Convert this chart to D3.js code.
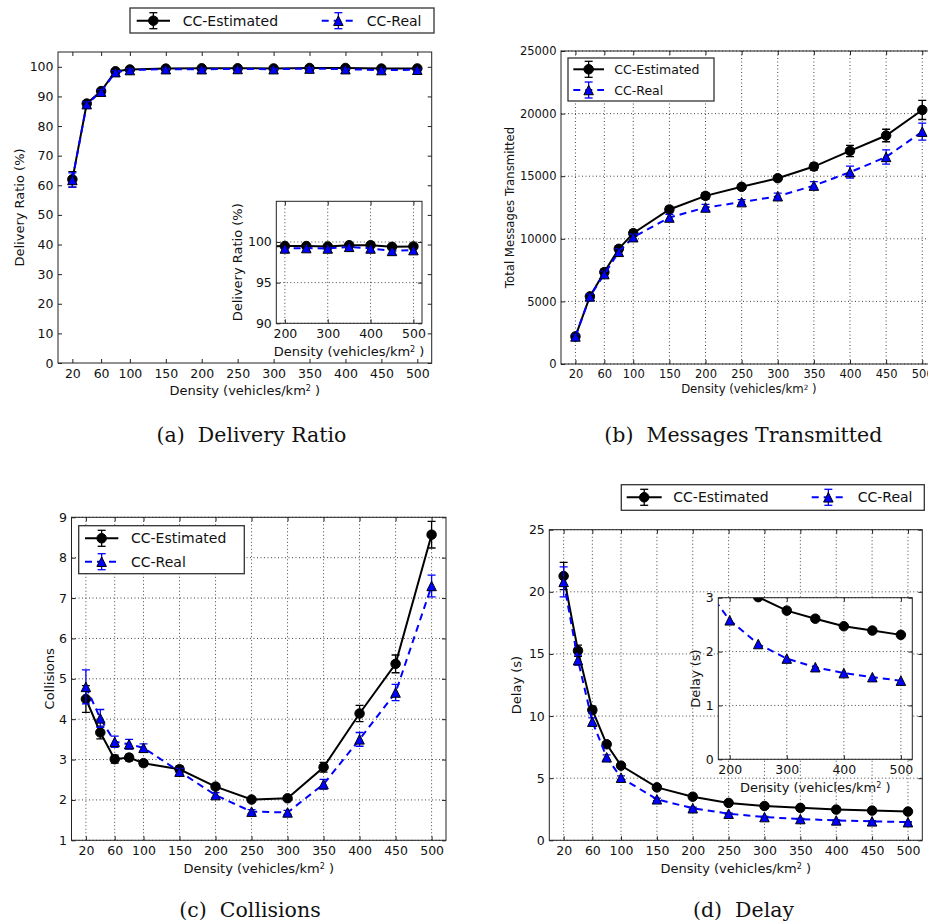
<!DOCTYPE html>
<html><head><meta charset="utf-8">
<script src="https://cdn.jsdelivr.net/npm/d3@7"></script>
<style>
body{margin:0;background:#fff}
svg{display:block;font-family:"DejaVu Sans",sans-serif}
</style></head><body>
<svg id="fig" width="928" height="924"></svg>
<script>
// ---- data ----
const density = [20,40,60,80,100,150,200,250,300,350,400,450,500];
const xTicks = [20,60,100,150,200,250,300,350,400,450,500];
const insetXTicks = [200,300,400,500];

const deliveryEst     = [62.0,87.6,91.8,98.5,99.1,99.4,99.5,99.5,99.45,99.6,99.6,99.4,99.45];
const deliveryEstErr  = [2.6,0.8,0.7,0.5,0.4,0.3,0.3,0.3,0.3,0.3,0.3,0.3,0.3];
const deliveryReal    = [61.8,87.4,91.6,98.2,98.9,99.2,99.2,99.25,99.2,99.4,99.2,98.9,99.0];
const deliveryRealErr = [2.4,0.8,0.7,0.5,0.4,0.3,0.3,0.3,0.3,0.3,0.3,0.4,0.3];
const deliveryTicks   = [0,10,20,30,40,50,60,70,80,90,100];
const deliveryInsetTicks = [90,95,100];

const msgEst     = [2200,5400,7340,9200,10450,12340,13430,14150,14840,15770,17020,18250,20290];
const msgEstErr  = [150,200,250,250,250,250,250,200,200,280,450,500,760];
const msgReal    = [2200,5400,7180,8960,10130,11700,12500,12930,13400,14250,15320,16540,18560];
const msgRealErr = [150,200,250,250,250,250,250,200,250,320,480,570,680];
const msgTicks   = [0,5000,10000,15000,20000,25000];

const collEst     = [4.50,3.67,3.01,3.05,2.91,2.76,2.33,2.01,2.04,2.81,4.14,5.37,8.57];
const collEstErr  = [0.33,0.16,0.10,0.08,0.07,0.08,0.06,0.05,0.05,0.12,0.20,0.22,0.33];
const collReal    = [4.80,4.02,3.44,3.38,3.29,2.70,2.12,1.71,1.69,2.39,3.50,4.66,7.30];
const collRealErr = [0.42,0.22,0.14,0.12,0.10,0.08,0.06,0.05,0.05,0.12,0.17,0.20,0.27];
const collTicks   = [1,2,3,4,5,6,7,8,9];

const delayEst     = [21.27,15.26,10.49,7.73,6.01,4.26,3.51,3.01,2.76,2.61,2.47,2.39,2.31];
const delayEstErr  = [1.1,0.45,0.3,0.2,0.15,0.1,0.08,0.06,0.05,0.05,0.05,0.05,0.05];
const delayReal    = [20.8,14.5,9.55,6.68,5.04,3.30,2.58,2.14,1.87,1.71,1.60,1.525,1.46];
const delayRealErr = [1.2,0.4,0.3,0.2,0.15,0.1,0.08,0.06,0.05,0.05,0.05,0.05,0.05];
const delayTicks   = [0,5,10,15,20,25];
const delayInsetTicks = [0,1,2,3];

const seriesNames = ["CC-Estimated","CC-Real"];
const BLUE = "#0000ff";
const MS = 4.75; // marker half-size

const svg = d3.select("#fig");
let clipCount = 0;

function series(values, err, i){
  return i === 0
    ? {values, err, color:"#000", marker:"circle", dash:null}
    : {values, err, color:BLUE, marker:"triangle", dash:"7,5"};
}

function drawMarker(sel, kind){
  if (kind === "circle"){
    sel.append("circle").attr("r", MS).attr("fill","#000").attr("stroke","#000").attr("stroke-width",1);
  } else {
    sel.append("path").attr("d",`M0,${-MS}L${MS},${MS}L${-MS},${MS}Z`)
      .attr("fill",BLUE).attr("stroke","#000").attr("stroke-width",1);
  }
}

function drawSeries(g, x, y, s, withErr){
  const pts = density.map((d,i)=>({x:d, v:s.values[i], e:s.err ? s.err[i] : 0}));
  if (withErr && s.err){
    const eg = g.append("g").attr("stroke", s.color).attr("stroke-width",1.3);
    eg.selectAll(null).data(pts).join("line")
      .attr("x1",d=>x(d.x)).attr("x2",d=>x(d.x))
      .attr("y1",d=>y(d.v-d.e)).attr("y2",d=>y(d.v+d.e));
    [-1,1].forEach(sgn=>{
      eg.selectAll(null).data(pts).join("line")
        .attr("x1",d=>x(d.x)-4).attr("x2",d=>x(d.x)+4)
        .attr("y1",d=>y(d.v+sgn*d.e)).attr("y2",d=>y(d.v+sgn*d.e));
    });
  }
  g.append("path").datum(pts)
    .attr("d", d3.line().x(d=>x(d.x)).y(d=>y(d.v)))
    .attr("fill","none").attr("stroke", s.color).attr("stroke-width",2)
    .attr("stroke-dasharray", s.dash);
  g.selectAll(null).data(pts).join("g")
    .attr("transform", d=>`translate(${x(d.x)},${y(d.v)})`)
    .each(function(){ drawMarker(d3.select(this), s.marker); });
}

function xLabelText(sel){
  sel.append("tspan").text("Density (vehicles/km");
  sel.append("tspan").attr("dy","-0.45em").attr("font-size","0.62em").text("2");
  sel.append("tspan").attr("dy","0.28em").text(" )");
}

function drawAxes(o){
  const g = svg.append("g");
  const x = d3.scaleLinear().domain(o.xDomain).range([o.left, o.right]);
  const y = d3.scaleLinear().domain(o.yDomain).range([o.bottom, o.top]);
  if (o.background){
    g.append("rect").attr("x",o.left).attr("y",o.top)
      .attr("width",o.right-o.left).attr("height",o.bottom-o.top).attr("fill","#fff");
  }
  if (o.grid){
    const gg = g.append("g").attr("stroke","#444").attr("stroke-width",1).attr("stroke-dasharray","1,2.5");
    gg.selectAll(null).data(o.xTicks).join("line")
      .attr("x1",d=>x(d)).attr("x2",d=>x(d)).attr("y1",o.top).attr("y2",o.bottom);
    gg.selectAll(null).data(o.yTicks).join("line")
      .attr("y1",d=>y(d)).attr("y2",d=>y(d)).attr("x1",o.left).attr("x2",o.right);
  }
  const id = "clip" + (clipCount++);
  svg.append("clipPath").attr("id",id).append("rect")
    .attr("x",o.left).attr("y",o.top).attr("width",o.right-o.left).attr("height",o.bottom-o.top);
  const dg = g.append("g").attr("clip-path",`url(#${id})`);
  o.series.forEach(s=>drawSeries(dg, x, y, s, o.errorbars));

  const fs = o.tickFont;
  const style = a => {
    a.select(".domain").remove();
    a.selectAll(".tick line").attr("stroke","#222");
    a.selectAll(".tick text").attr("fill","#111").attr("font-size",fs)
      .attr("font-family","DejaVu Sans");
  };
  g.append("g").attr("transform",`translate(0,${o.bottom})`)
    .call(d3.axisBottom(x).tickValues(o.xTicks).tickSizeInner(-4).tickSizeOuter(0).tickPadding(6).tickFormat(d3.format("d")))
    .call(style);
  g.append("g").attr("transform",`translate(0,${o.top})`)
    .call(d3.axisTop(x).tickValues(o.xTicks).tickSizeInner(-4).tickSizeOuter(0).tickFormat(""))
    .call(style);
  g.append("g").attr("transform",`translate(${o.left},0)`)
    .call(d3.axisLeft(y).tickValues(o.yTicks).tickSizeInner(-4).tickSizeOuter(0).tickPadding(4.5).tickFormat(d3.format("d")))
    .call(style);
  g.append("g").attr("transform",`translate(${o.right},0)`)
    .call(d3.axisRight(y).tickValues(o.yTicks).tickSizeInner(-4).tickSizeOuter(0).tickFormat(""))
    .call(style);
  g.append("rect").attr("x",o.left).attr("y",o.top)
    .attr("width",o.right-o.left).attr("height",o.bottom-o.top)
    .attr("fill","none").attr("stroke","#222").attr("stroke-width",1);

  g.append("text").attr("x",(o.left+o.right)/2).attr("y",o.xlabelY)
    .attr("text-anchor","middle").attr("dy","0.35em").attr("font-size",o.labelFont).attr("fill","#111")
    .call(xLabelText);
  g.append("text").attr("transform",`translate(${o.ylabelX},${(o.top+o.bottom)/2}) rotate(-90)`)
    .attr("text-anchor","middle").attr("dy","0.35em").attr("font-size",o.labelFont).attr("fill","#111")
    .text(o.ylabel);
  return g;
}

function handle(g, x0, x1, cy, s){
  const mx = (x0+x1)/2;
  g.append("line").attr("x1",x0).attr("x2",x1).attr("y1",cy).attr("y2",cy)
    .attr("stroke",s.color).attr("stroke-width",2).attr("stroke-dasharray",s.dash);
  const eg = g.append("g").attr("stroke",s.color).attr("stroke-width",1.3);
  eg.append("line").attr("x1",mx).attr("x2",mx).attr("y1",cy-8).attr("y2",cy+8);
  eg.append("line").attr("x1",mx-4).attr("x2",mx+4).attr("y1",cy-8).attr("y2",cy-8);
  eg.append("line").attr("x1",mx-4).attr("x2",mx+4).attr("y1",cy+8).attr("y2",cy+8);
  drawMarker(g.append("g").attr("transform",`translate(${mx},${cy})`), s.marker);
}

function legend(box, entries, fontSize){
  const g = svg.append("g");
  g.append("rect").attr("x",box[0]).attr("y",box[1]).attr("width",box[2]-box[0]).attr("height",box[3]-box[1])
    .attr("fill","#fff").attr("stroke","#333").attr("stroke-width",1.3);
  entries.forEach((e,i)=>{
    handle(g, e.h0, e.h1, e.y, series(null,null,i));
    g.append("text").attr("x",e.tx).attr("y",e.y).attr("dy","0.36em")
      .attr("font-size",fontSize).attr("fill","#111").text(seriesNames[i]);
  });
}

// (a) delivery ratio
drawAxes({left:58, right:431.7, top:52, bottom:363, xDomain:[0,520], yDomain:[0,105],
  xTicks, yTicks:deliveryTicks, grid:false, errorbars:true, tickFont:12.5, labelFont:13,
  series:[series(deliveryEst,deliveryEstErr,0), series(deliveryReal,deliveryRealErr,1)],
  xlabelY:390.5, ylabelX:19, ylabel:"Delivery Ratio (%)"});
drawAxes({left:276.3, right:422, top:201.3, bottom:323.3, xDomain:[180,520], yDomain:[90,105],
  xTicks:insetXTicks, yTicks:deliveryInsetTicks, grid:true, background:true, errorbars:false, tickFont:12.5, labelFont:13,
  series:[series(deliveryEst,null,0), series(deliveryReal,null,1)],
  xlabelY:351, ylabelX:237, ylabel:"Delivery Ratio (%)"});
legend([130,8,434,33], [{h0:136.7,h1:170,y:20.7,tx:182.7},{h0:321.7,h1:355,y:20.7,tx:366.7}], 14);

// (b) messages transmitted
drawAxes({left:561, right:936.7, top:51, bottom:364, xDomain:[0,520], yDomain:[0,25000],
  xTicks, yTicks:msgTicks, grid:true, errorbars:true, tickFont:11.5, labelFont:11.7,
  series:[series(msgEst,msgEstErr,0), series(msgReal,msgRealErr,1)],
  xlabelY:389, ylabelX:510, ylabel:"Total Messages Transmitted"});
legend([568,58,714,101], [{h0:573.3,h1:604,y:69.3,tx:614.3},{h0:573.3,h1:604,y:90,tx:614.3}], 12.5);

// (c) collisions
drawAxes({left:71.5, right:446, top:517.3, bottom:840.3, xDomain:[0,520], yDomain:[1,9],
  xTicks, yTicks:collTicks, grid:true, errorbars:true, tickFont:12.5, labelFont:13,
  series:[series(collEst,collEstErr,0), series(collReal,collRealErr,1)],
  xlabelY:868.3, ylabelX:49, ylabel:"Collisions"});
legend([78.7,525.7,244.3,573.7], [{h0:85,h1:118.3,y:538.3,tx:131},{h0:85,h1:118.3,y:561.7,tx:131}], 14);

// (d) delay
drawAxes({left:549.3, right:922.3, top:529.7, bottom:840.3, xDomain:[0,520], yDomain:[0,25],
  xTicks, yTicks:delayTicks, grid:true, errorbars:true, tickFont:12.5, labelFont:13,
  series:[series(delayEst,delayEstErr,0), series(delayReal,delayRealErr,1)],
  xlabelY:868.3, ylabelX:516.7, ylabel:"Delay (s)"});
drawAxes({left:718.3, right:912.3, top:597.7, bottom:759.3, xDomain:[180,520], yDomain:[0,3],
  xTicks:insetXTicks, yTicks:delayInsetTicks, grid:true, background:true, errorbars:false, tickFont:12.5, labelFont:13,
  series:[series(delayEst,null,0), series(delayReal,null,1)],
  xlabelY:787.3, ylabelX:695, ylabel:"Delay (s)"});
legend([621.3,484.7,924.3,510.3], [{h0:626.7,h1:661.7,y:497.3,tx:673.3},{h0:811.7,h1:845,y:497.3,tx:857.7}], 14);

// sub-figure captions
const captions = [
  {text:"(a)  Delivery Ratio", x:251.5, y:441.5},
  {text:"(b)  Messages Transmitted", x:743.3, y:441.5},
  {text:"(c)  Collisions", x:250, y:917},
  {text:"(d)  Delay", x:743.5, y:917}
];
svg.selectAll(null).data(captions).join("text")
  .attr("x",d=>d.x).attr("y",d=>d.y).attr("text-anchor","middle")
  .style("white-space","pre").attr("font-family","DejaVu Serif").attr("font-size",20.5)
  .attr("fill","#111").text(d=>d.text);
</script>
</body></html>
